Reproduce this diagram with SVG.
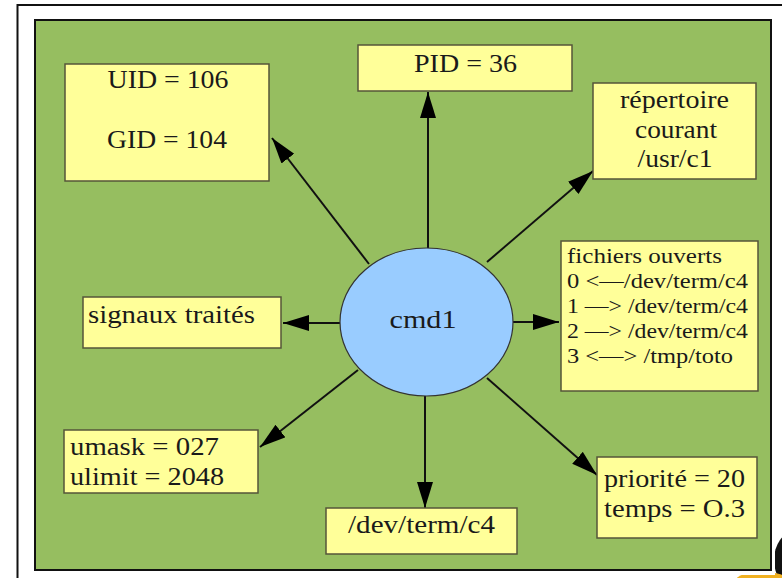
<svg xmlns="http://www.w3.org/2000/svg" width="782" height="578" viewBox="0 0 782 578">
<style>
.box{fill:#FFFF99;stroke:#55553a;stroke-width:1.5}
.t{font-size:25px}
.s{font-size:22px}
.c{text-anchor:middle}
.ln{stroke:#111;stroke-width:2;fill:none;marker-end:url(#ah)}
</style>
<defs>
<marker id="ah" markerUnits="userSpaceOnUse" markerWidth="28" markerHeight="18" refX="26" refY="8" orient="auto">
<path d="M0,0 L26,8 L0,16 z" fill="#000"/>
</marker>
</defs>
<rect x="0" y="0" width="782" height="578" fill="#fff"/>
<g id="tux">
<ellipse cx="794" cy="560" rx="20" ry="28" fill="#111"/>
<ellipse cx="762" cy="580" rx="26" ry="8" fill="#f0b020"/>
</g>
<rect x="17.5" y="5" width="800" height="600" fill="none" stroke="#111" stroke-width="2"/>
<rect x="31" y="16" width="744" height="559" fill="#fff"/>
<rect x="35" y="20" width="736" height="550" fill="#96BE60" stroke="#111" stroke-width="2"/>
<g id="connectors">
<line class="ln" x1="369" y1="264" x2="272" y2="138"/>
<line class="ln" x1="428" y1="248" x2="428" y2="92"/>
<line class="ln" x1="487" y1="262" x2="593" y2="171"/>
<line class="ln" x1="513" y1="322" x2="559" y2="322"/>
<line class="ln" x1="340" y1="323" x2="283" y2="323"/>
<line class="ln" x1="358" y1="370" x2="260" y2="447"/>
<line class="ln" x1="425" y1="396" x2="425" y2="508"/>
<line class="ln" x1="487" y1="378" x2="597" y2="475"/>
</g>
<g font-family="Liberation Serif, Times New Roman, serif" fill="#1a1a1a">
<g id="cmd1">
<ellipse cx="426.5" cy="322" rx="86.5" ry="74" fill="#99CCFF" stroke="#333" stroke-width="1.2"/>
<text class="c" x="423" y="328" font-size="26" textLength="67" lengthAdjust="spacingAndGlyphs">cmd1</text>
</g>
<g id="uid">
<rect class="box" x="65" y="64" width="204" height="117"/>
<text class="t c" x="168" y="88" textLength="121" lengthAdjust="spacingAndGlyphs">UID = 106</text>
<text class="t c" x="167" y="148" textLength="120" lengthAdjust="spacingAndGlyphs">GID = 104</text>
</g>
<g id="pid">
<rect class="box" x="358" y="45" width="214" height="46"/>
<text class="t c" x="465.5" y="72" textLength="103" lengthAdjust="spacingAndGlyphs">PID = 36</text>
</g>
<g id="repertoire">
<rect class="box" x="593" y="83" width="163" height="96"/>
<text class="t c" x="674.5" y="108" textLength="109" lengthAdjust="spacingAndGlyphs">répertoire</text>
<text class="t c" x="676" y="138" textLength="82" lengthAdjust="spacingAndGlyphs">courant</text>
<text class="t c" x="675" y="167" textLength="75" lengthAdjust="spacingAndGlyphs">/usr/c1</text>
</g>
<g id="fichiers">
<rect class="box" x="561" y="241" width="197" height="150"/>
<text class="s" x="567" y="263" textLength="155" lengthAdjust="spacingAndGlyphs">fichiers ouverts</text>
<text class="s" x="567" y="288" textLength="181" lengthAdjust="spacingAndGlyphs">0 &lt;—/dev/term/c4</text>
<text class="s" x="567" y="313" textLength="181" lengthAdjust="spacingAndGlyphs">1 —&gt; /dev/term/c4</text>
<text class="s" x="567" y="338" textLength="181" lengthAdjust="spacingAndGlyphs">2 —&gt; /dev/term/c4</text>
<text class="s" x="567" y="363" textLength="166" lengthAdjust="spacingAndGlyphs">3 &lt;—&gt; /tmp/toto</text>
</g>
<g id="signaux">
<rect class="box" x="83" y="297" width="198" height="51"/>
<text class="t" x="88" y="323" textLength="167" lengthAdjust="spacingAndGlyphs">signaux traités</text>
</g>
<g id="umask">
<rect class="box" x="64" y="430" width="194" height="63"/>
<text class="t" x="70" y="455" textLength="149" lengthAdjust="spacingAndGlyphs">umask = 027</text>
<text class="t" x="70" y="485" textLength="154" lengthAdjust="spacingAndGlyphs">ulimit = 2048</text>
</g>
<g id="devterm">
<rect class="box" x="326" y="508" width="191" height="46"/>
<text class="t c" x="421.5" y="533" textLength="147" lengthAdjust="spacingAndGlyphs">/dev/term/c4</text>
</g>
<g id="priorite">
<rect class="box" x="597" y="457" width="160" height="81"/>
<text class="t" x="604" y="487" textLength="141" lengthAdjust="spacingAndGlyphs">priorité = 20</text>
<text class="t" x="604" y="517" textLength="141" lengthAdjust="spacingAndGlyphs">temps = O.3</text>
</g>
</g>
</svg>
